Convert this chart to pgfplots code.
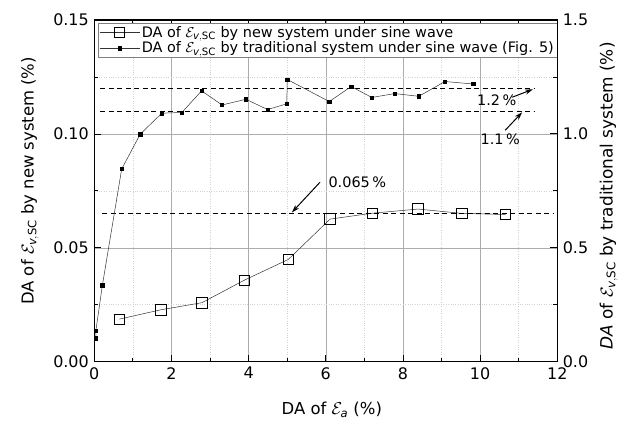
\documentclass[border=0pt]{standalone}
\usepackage{pgfplots}
\pgfplotsset{compat=1.18}
\usepackage{amsmath}
\usepackage{fontspec}
\setmainfont{DejaVu Sans}
\usetikzlibrary{arrows.meta}
\newcommand{\epsv}{$\mathcal{E}_{\textit{v},\text{SC}}$}
\newcommand{\tickfont}{\fontsize{16}{19}\selectfont}
\newcommand{\labfont}{\fontsize{16.5}{19}\selectfont}
\newcommand{\rlabfont}{\fontsize{17}{20}\selectfont}
\newcommand{\legfont}{\fontsize{14.5}{17}\selectfont}

\pgfplotstableread{
x y
0.65 0.0187
1.73 0.0228
2.79 0.0259
3.89 0.0358
5.03 0.0449
6.11 0.0626
7.21 0.0652
8.39 0.0670
9.53 0.0651
10.66 0.0646
}\newsys

\pgfplotstableread{
x y
0.04 0.103
0.04 0.136
0.21 0.336
0.71 0.846
1.19 0.999
1.75 1.091
2.27 1.094
2.78 1.189
3.31 1.127
3.93 1.152
4.49 1.107
4.99 1.132
5.00 1.239
6.09 1.142
6.66 1.208
7.19 1.160
7.79 1.177
8.41 1.165
9.09 1.230
9.82 1.219
}\tradsys

\begin{document}
\begin{tikzpicture}[font=\legfont]
\begin{axis}[name=ax, scale only axis, width=463bp, height=341.7bp,
  xmin=0, xmax=12, ymin=0, ymax=0.15,
  xtick={0,2,...,12}, minor x tick num=1,
  ytick={0,0.05,0.1,0.15}, minor y tick num=1,
  ytick pos=left, xtick pos=both,
  xticklabel pos=bottom,
  tick align=inside,
  major tick length=7bp, minor tick length=4bp,
  every tick/.style={black, line width=0.8pt},
  axis line style={line width=1pt},
  /pgf/number format/assume math mode=true,
  yticklabel style={font=\tickfont, xshift=-2bp, /pgf/number format/.cd, fixed, fixed zerofill, precision=2},
  xticklabel style={font=\tickfont, yshift=-2bp, /pgf/number format/.cd, fixed},
  grid=both,
  major grid style={gray!65, line width=0.6pt},
  minor grid style={gray!35, dotted, line width=0.6pt},
  xlabel={DA of $\mathcal{E}_{\textit{a}}$ (\%)},
  ylabel={DA of \epsv\ by new system (\%)},
  xlabel style={font=\labfont, at={(axis description cs:0.513,-0.141)}, anchor=center},
  ylabel style={font=\labfont, at={(axis description cs:-0.139,0.529)}, anchor=center},
  legend style={at={(rel axis cs:0.008,0.991)}, anchor=north west,
    draw=gray, line width=0.6pt, fill=white, inner sep=1pt, row sep=-1pt,
    font=\legfont},
  legend image code/.code={\draw[mark repeat=2, mark phase=2] plot coordinates {(0bp,0bp) (20bp,0bp) (40bp,0bp)};},
  legend cell align=left,
  clip=false,
]
\addplot[black!80, line width=0.5pt, mark=square, mark size=5.2bp,
  mark options={fill=white, line width=0.8pt, black}] table {\newsys};
\addlegendentry{DA of \epsv\ by new system under sine wave}
\addlegendimage{black!80, line width=0.5pt, mark=square*, mark size=1.7bp, mark options={black}}
\addlegendentry{DA of \epsv\ by traditional system under sine wave (Fig. 5)}

\addplot[black, line width=1.2pt, dash pattern=on 5bp off 3.5bp, forget plot] coordinates {(0.15,0.12) (11.4,0.12)};
\addplot[black, line width=1.2pt, dash pattern=on 5bp off 3.5bp, forget plot] coordinates {(0.15,0.11) (11.4,0.11)};
\addplot[black, line width=1.2pt, dash pattern=on 5bp off 3.5bp, forget plot] coordinates {(0.2,0.065) (11.9,0.065)};

\node at (axis cs:10.43,0.1148) {1.2\,\%};
\draw[line width=1pt, -{Stealth[length=8bp,width=5bp]}] (axis cs:10.83,0.1161) -- (axis cs:11.37,0.1196);
\node at (axis cs:10.52,0.0977) {1.1\,\%};
\draw[line width=1pt, -{Stealth[length=8bp,width=5bp]}] (axis cs:10.65,0.1016) -- (axis cs:11.09,0.1095);
\node[anchor=west] at (axis cs:5.98,0.0788) {0.065\,\%};
\draw[line width=1pt, -{Stealth[length=8bp,width=5bp]}] (axis cs:5.85,0.0788) -- (axis cs:5.12,0.0655);
\end{axis}

\begin{axis}[scale only axis, width=463bp, height=341.7bp,
  at={(ax.south west)}, anchor=south west,
  xmin=0, xmax=12, ymin=0, ymax=1.5,
  xtick=\empty,
  ytick={0,0.5,1.0,1.5}, minor y tick num=1,
  ytick pos=right, yticklabel pos=right,
  tick align=inside,
  major tick length=7bp, minor tick length=4bp,
  every tick/.style={black, line width=0.8pt},
  axis line style={line width=1pt},
  /pgf/number format/assume math mode=true,
  yticklabel style={font=\tickfont, xshift=2bp, /pgf/number format/.cd, fixed, fixed zerofill, precision=1},
  ylabel={\textit{DA} of \epsv\ by traditional system (\%)},
  ylabel style={font=\rlabfont, at={(axis description cs:1.111,0.485)}, anchor=center},
]
\addplot[black!80, line width=0.5pt, mark=square*, mark size=1.7bp, mark options={black}] table {\tradsys};
\end{axis}
\pgfresetboundingbox
\path[use as bounding box] ([xshift=-94.3bp,yshift=-61.3bp]ax.south west) rectangle ([xshift=65.7bp,yshift=20bp]ax.north east);
\end{tikzpicture}
\end{document}
